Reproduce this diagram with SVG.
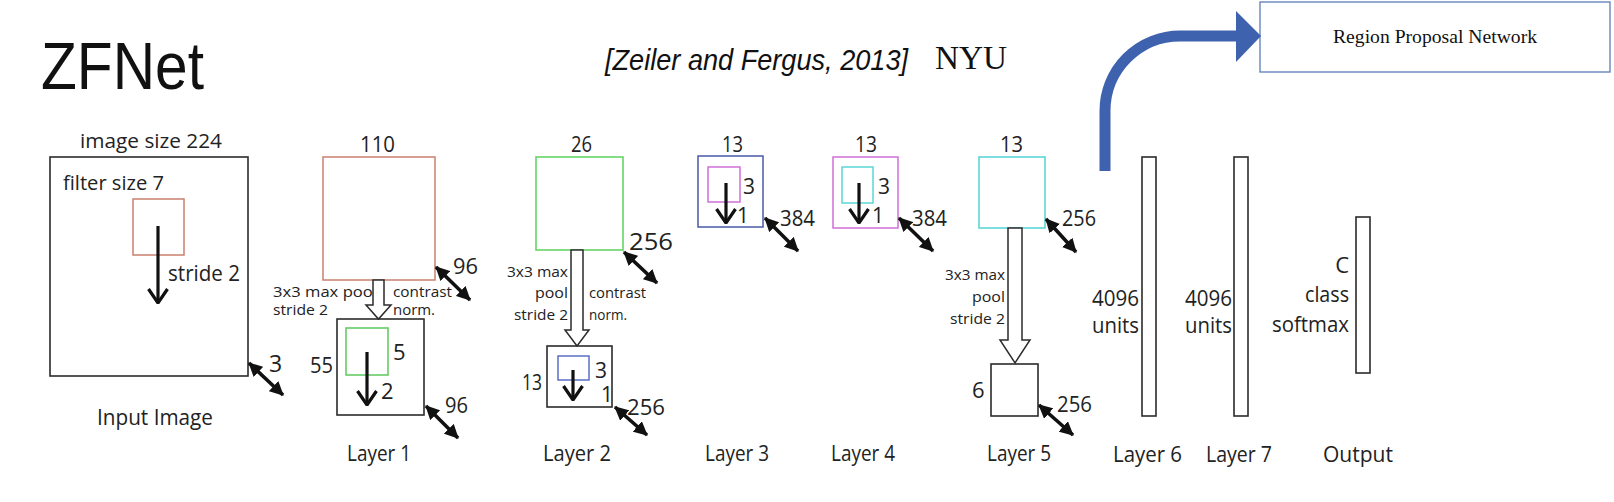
<svg xmlns="http://www.w3.org/2000/svg" width="1614" height="502" viewBox="0 0 1614 502">
<style>
text{font-family:"Open Sans",Lato,"Liberation Sans",sans-serif;fill:#222}
.n{font-size:22px}
.d{font-size:21px}
.s{font-size:14.5px}
.lab{font-size:21px}
.box{fill:none;stroke:#2b2b2b;stroke-width:1.6}
.hollow{fill:#fff;stroke:#2b2b2b;stroke-width:1.5}
.dbl{stroke:#111;stroke-width:3.6;marker-start:url(#tri);marker-end:url(#tri)}
.dn{stroke:#111;stroke-width:3.2;fill:none;marker-end:url(#chev)}
.end{text-anchor:end}
</style>
<defs>
<marker id="tri" viewBox="0 0 14 14" refX="13" refY="7" markerWidth="14" markerHeight="14" markerUnits="userSpaceOnUse" orient="auto-start-reverse">
<path d="M0,0 L14,7 L0,14 Z" fill="#111"/>
</marker>
<marker id="chev" viewBox="0 0 16 22" refX="15" refY="11" markerWidth="16" markerHeight="22" markerUnits="userSpaceOnUse" orient="auto">
<path d="M1,1.5 L15,11 L1,20.5" fill="none" stroke="#111" stroke-width="3.2"/>
</marker>
</defs>
<rect width="1614" height="502" fill="#fff"/>

<g id="title">
<text x="41" y="89" style="font-family:'Liberation Sans',Arial,sans-serif;font-size:66px;fill:#111" textLength="163" lengthAdjust="spacingAndGlyphs">ZFNet</text>
<text x="605" y="70" style="font-family:'Liberation Sans',Arial,sans-serif;font-size:29px;font-style:italic;fill:#111" textLength="303" lengthAdjust="spacingAndGlyphs">[Zeiler and Fergus, 2013]</text>
<text x="935" y="69" style="font-family:'Liberation Serif','Times New Roman',serif;font-size:34px;fill:#111" textLength="72" lengthAdjust="spacingAndGlyphs">NYU</text>
</g>

<g id="rpn">
<rect x="1260" y="2" width="350" height="70" fill="#fff" stroke="#5b7db8" stroke-width="1.3"/>
<text x="1435" y="43" text-anchor="middle" style="font-family:'Liberation Serif','Times New Roman',serif;font-size:19.5px;fill:#111" textLength="204" lengthAdjust="spacingAndGlyphs">Region Proposal Network</text>
</g>

<g id="input">
<rect class="box" x="50" y="157" width="198" height="219"/>
<text class="lab" x="80" y="148" textLength="142" lengthAdjust="spacingAndGlyphs" style="font-size:20px">image size 224</text>
<text class="lab" x="63" y="190" textLength="101" lengthAdjust="spacingAndGlyphs" style="font-size:20px">filter size 7</text>
<rect x="133" y="199" width="51" height="56" fill="none" stroke="#c9806f" stroke-width="1.5"/>
<text class="lab" x="168" y="281" textLength="72" lengthAdjust="spacingAndGlyphs" style="font-size:21px">stride 2</text>
<text class="n" x="269" y="372" style="font-size:23px">3</text>
<text class="lab" x="97" y="425" textLength="116" lengthAdjust="spacingAndGlyphs">Input Image</text>
</g>

<g id="layer1">
<text class="n" x="360" y="152" textLength="35" lengthAdjust="spacingAndGlyphs">110</text>
<rect x="323" y="157" width="112" height="123" fill="none" stroke="#c9806f" stroke-width="1.5"/>
<text class="s" x="273" y="297" textLength="104" lengthAdjust="spacingAndGlyphs">3x3 max pool</text>
<text class="s" x="273" y="315" textLength="55" lengthAdjust="spacingAndGlyphs">stride 2</text>
<text class="s" x="393" y="297" textLength="59" lengthAdjust="spacingAndGlyphs">contrast</text>
<text class="s" x="393" y="315" textLength="42" lengthAdjust="spacingAndGlyphs">norm.</text>
<text class="n" x="453" y="274" textLength="25" lengthAdjust="spacingAndGlyphs">96</text>
<rect class="box" x="337" y="319" width="87" height="96"/>
<rect x="346" y="328" width="42" height="47" fill="none" stroke="#66cc66" stroke-width="1.6"/>
<text class="n" x="393" y="360">5</text>
<text class="n" x="310" y="373" textLength="23" lengthAdjust="spacingAndGlyphs">55</text>
<text class="n" x="381" y="399">2</text>
<text class="n" x="445" y="413" textLength="23" lengthAdjust="spacingAndGlyphs">96</text>
<text class="lab" x="347" y="461" textLength="64" lengthAdjust="spacingAndGlyphs">Layer 1</text>
</g>

<g id="layer2">
<text class="n" x="571" y="152" textLength="21" lengthAdjust="spacingAndGlyphs">26</text>
<rect x="536" y="157" width="87" height="93" fill="none" stroke="#66d466" stroke-width="1.6"/>
<text class="n" x="629" y="250" textLength="44" lengthAdjust="spacingAndGlyphs" style="font-size:24px">256</text>
<text class="s end" x="568" y="277" textLength="61" lengthAdjust="spacingAndGlyphs">3x3 max</text>
<text class="s end" x="568" y="298" textLength="33" lengthAdjust="spacingAndGlyphs">pool</text>
<text class="s end" x="568" y="320" textLength="54" lengthAdjust="spacingAndGlyphs">stride 2</text>
<text class="s" x="589" y="298" textLength="57" lengthAdjust="spacingAndGlyphs">contrast</text>
<text class="s" x="589" y="320" textLength="38" lengthAdjust="spacingAndGlyphs">norm.</text>
<rect class="box" x="547" y="346" width="65" height="61"/>
<rect x="558" y="356" width="31" height="24" fill="none" stroke="#5b6fc4" stroke-width="1.5"/>
<text class="d" x="595" y="378">3</text>
<text class="d" x="522" y="390" textLength="20" lengthAdjust="spacingAndGlyphs">13</text>
<text class="d" x="601" y="402">1</text>
<text class="n" x="627" y="415" textLength="38" lengthAdjust="spacingAndGlyphs">256</text>
<text class="lab" x="543" y="461" textLength="68" lengthAdjust="spacingAndGlyphs">Layer 2</text>
</g>

<g id="layer3">
<text class="n" x="722" y="152" textLength="21" lengthAdjust="spacingAndGlyphs">13</text>
<rect x="698" y="156" width="65" height="71" fill="none" stroke="#4a5aa8" stroke-width="1.5"/>
<rect x="708" y="167" width="32" height="35" fill="none" stroke="#d070d8" stroke-width="1.5"/>
<text class="d" x="743" y="194">3</text>
<text class="d" x="737" y="223">1</text>
<text class="n" x="780" y="226" textLength="35" lengthAdjust="spacingAndGlyphs">384</text>
<text class="lab" x="705" y="461" textLength="64" lengthAdjust="spacingAndGlyphs">Layer 3</text>
</g>

<g id="layer4">
<text class="n" x="855" y="152" textLength="22" lengthAdjust="spacingAndGlyphs">13</text>
<rect x="833" y="157" width="65" height="71" fill="none" stroke="#d070d8" stroke-width="1.5"/>
<rect x="842" y="167" width="31" height="36" fill="none" stroke="#5cd6d6" stroke-width="1.5"/>
<text class="d" x="878" y="194">3</text>
<text class="d" x="872" y="223">1</text>
<text class="n" x="912" y="226" textLength="35" lengthAdjust="spacingAndGlyphs">384</text>
<text class="lab" x="831" y="461" textLength="64" lengthAdjust="spacingAndGlyphs">Layer 4</text>
</g>

<g id="layer5">
<text class="n" x="1000" y="152" textLength="23" lengthAdjust="spacingAndGlyphs">13</text>
<rect x="979" y="157" width="66" height="71" fill="none" stroke="#5cd6d6" stroke-width="1.6"/>
<text class="n" x="1062" y="226" textLength="34" lengthAdjust="spacingAndGlyphs">256</text>
<text class="s end" x="1005" y="280" textLength="60" lengthAdjust="spacingAndGlyphs">3x3 max</text>
<text class="s end" x="1005" y="302" textLength="33" lengthAdjust="spacingAndGlyphs">pool</text>
<text class="s end" x="1005" y="324" textLength="55" lengthAdjust="spacingAndGlyphs">stride 2</text>
<rect class="box" x="991" y="364" width="47" height="52"/>
<text class="n" x="972" y="398">6</text>
<text class="n" x="1057" y="412" textLength="35" lengthAdjust="spacingAndGlyphs">256</text>
<text class="lab" x="987" y="461" textLength="64" lengthAdjust="spacingAndGlyphs">Layer 5</text>
</g>

<g id="layer6">
<rect class="box" x="1142" y="157" width="14" height="259"/>
<text class="n" x="1092" y="306" textLength="47" lengthAdjust="spacingAndGlyphs">4096</text>
<text class="n" x="1092" y="333" textLength="47" lengthAdjust="spacingAndGlyphs">units</text>
<text class="lab" x="1113" y="462" textLength="69" lengthAdjust="spacingAndGlyphs">Layer 6</text>
</g>

<g id="layer7">
<rect class="box" x="1234" y="157" width="14" height="259"/>
<text class="n" x="1185" y="306" textLength="47" lengthAdjust="spacingAndGlyphs">4096</text>
<text class="n" x="1185" y="333" textLength="47" lengthAdjust="spacingAndGlyphs">units</text>
<text class="lab" x="1206" y="462" textLength="66" lengthAdjust="spacingAndGlyphs">Layer 7</text>
</g>

<g id="output">
<rect class="box" x="1356" y="217" width="14" height="156"/>
<text class="n end" x="1349" y="273">C</text>
<text class="n end" x="1349" y="302" textLength="44" lengthAdjust="spacingAndGlyphs">class</text>
<text class="n end" x="1349" y="332" textLength="77" lengthAdjust="spacingAndGlyphs">softmax</text>
<text class="lab" x="1323" y="462" textLength="70" lengthAdjust="spacingAndGlyphs">Output</text>
</g>

<g id="connectors">
<path d="M1105,171 V111 A75,75 0 0 1 1180,36 H1238" fill="none" stroke="#3f62ae" stroke-width="11"/>
<polygon points="1236,11 1261,36 1236,62" fill="#3f62ae"/>
<path class="hollow" d="M373,280 V305 H366 L378.5,319 L391,305 H384 V280 Z"/>
<path class="hollow" d="M571,250 V330 H565 L577,346 L589,330 H583 V250 Z"/>
<path class="hollow" d="M1008,228 V340 H1000 L1015,363 L1030,340 H1022 V228 Z"/>
<line class="dn" x1="158" y1="226" x2="158" y2="303"/>
<line class="dn" x1="367" y1="352" x2="367" y2="405"/>
<line class="dn" x1="573" y1="370" x2="573" y2="400"/>
<line class="dn" x1="726" y1="183" x2="726" y2="223"/>
<line class="dn" x1="859" y1="183" x2="859" y2="223"/>
<line class="dbl" x1="249" y1="363" x2="283" y2="395"/>
<line class="dbl" x1="436" y1="267" x2="470" y2="300"/>
<line class="dbl" x1="426" y1="406" x2="458" y2="438"/>
<line class="dbl" x1="624" y1="252" x2="657" y2="283"/>
<line class="dbl" x1="615" y1="407" x2="647" y2="435"/>
<line class="dbl" x1="765" y1="218" x2="798" y2="251"/>
<line class="dbl" x1="899" y1="218" x2="933" y2="251"/>
<line class="dbl" x1="1046" y1="219" x2="1076" y2="252"/>
<line class="dbl" x1="1039" y1="405" x2="1073" y2="435"/>
</g>
</svg>
